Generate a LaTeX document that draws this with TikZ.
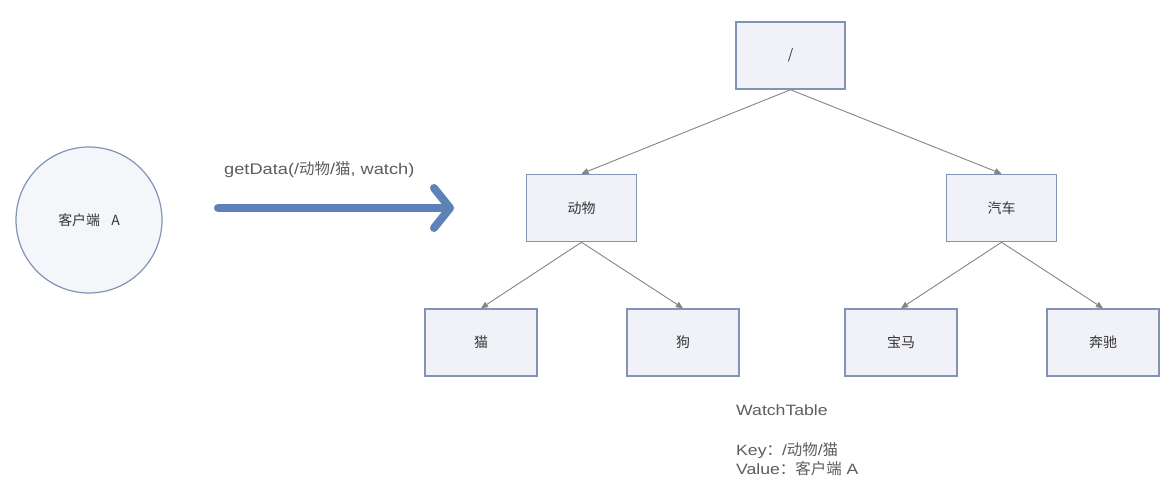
\documentclass[tikz,border=0pt]{standalone}
\usepackage{fontspec}
\setmainfont{Liberation Sans}
\newfontfamily\cjk{Noto Sans CJK SC}
\newfontfamily\widesans[FakeStretch=1.18]{Liberation Sans}
\usetikzlibrary{arrows.meta}
\definecolor{boxline}{HTML}{8194B6}
\definecolor{boxfill}{HTML}{F0F2F8}
\definecolor{txt}{HTML}{353535}
\definecolor{edge}{HTML}{858585}
\definecolor{flow}{HTML}{5E81B8}
\tikzset{
  treebox/.style={draw=boxline, line width=1.5bp, fill=boxfill,
    minimum width=110bp, minimum height=67bp, inner sep=0pt, text=txt,
    font=\fontsize{14}{16}\selectfont\cjk},
  leafbox/.style={treebox, minimum width=112bp},
  link/.style={draw=edge, line width=0.9bp, -{Triangle[length=7bp,width=6bp]}},
  client/.style={circle, draw=boxline, line width=1.2bp, fill=boxfill!70!white,
    minimum size=146bp, inner sep=0pt, text=txt, font=\fontsize{14}{16}\selectfont\cjk},
  note/.style={text=txt!80!white, anchor=west, inner sep=0pt,
    font=\fontsize{15}{17}\selectfont\widesans}
}
\newcommand{\zh}[1]{{\fontsize{15.5}{17}\selectfont\cjk #1}}
\begin{document}
\begin{tikzpicture}[x=1bp,y=-1bp]
\useasboundingbox[fill=white] (0,0) rectangle (1175,491);

% client
\node[client] (cli) at (89,220) {客户端\hspace{0.8em}A};

% request arrow and its label
\coordinate (reqs) at (218,208);
\coordinate (reqe) at (454,208);
\draw[flow, line width=8bp, line cap=round,
  -{Straight Barb[length=16bp,width=40bp,line cap=round,line join=round]}] (reqs) -- (reqe);
\node[note, font=\fontsize{15.5}{17}\selectfont\widesans] (req) at (224,170)
  {getData(/{\cjk 动物}/{\cjk 猫}, watch)};

% znode tree
\node[treebox, minimum width=109bp] (root) at (790.5,55.5) {/};
\node[treebox] (animal) at (581.5,208) {动物};
\node[treebox] (car) at (1001.5,208) {汽车};
\node[leafbox] (cat) at (481,342.5) {猫};
\node[leafbox] (dog) at (683,342.5) {狗};
\node[leafbox] (bmw) at (901,342.5) {宝马};
\node[leafbox] (benz) at (1103,342.5) {奔驰};

\draw[link] (root.south) -- (animal.north);
\draw[link] (root.south) -- (car.north);
\draw[link] (animal.south) -- (cat.north);
\draw[link] (animal.south) -- (dog.north);
\draw[link] (car.south) -- (bmw.north);
\draw[link] (car.south) -- (benz.north);

% watch table
\node[note] (wt) at (736,410) {WatchTable};
\node[note] (wkey) at (736,451) {Key\zh{：}/\zh{动物}/\zh{猫}};
\node[note] (wval) at (736,469) {Value\zh{：客户端} A};
\end{tikzpicture}
\end{document}
